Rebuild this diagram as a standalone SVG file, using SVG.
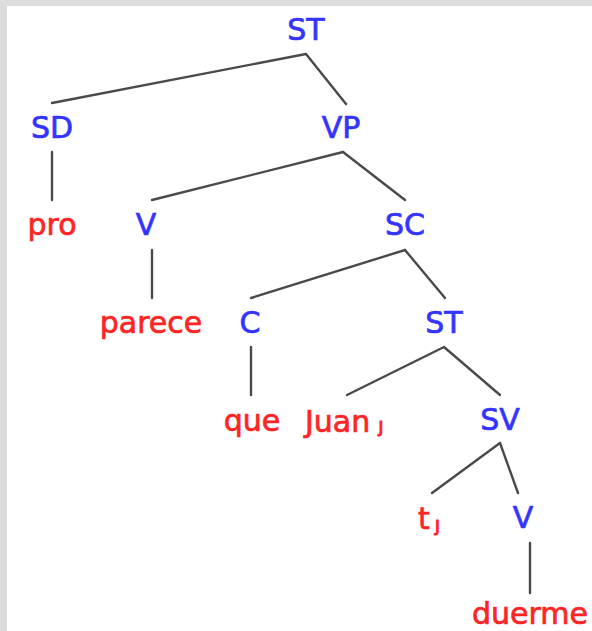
<svg xmlns="http://www.w3.org/2000/svg" width="592" height="631" viewBox="0 0 592 631">
<style>
text{font-family:"DejaVu Sans","Noto Sans",sans-serif;font-size:30px;text-anchor:middle;stroke-width:0.7px}
.c{fill:#3434ff;stroke:#3434ff}
.w{fill:#ff2424;stroke:#ff2424}
.sub{font-size:19px;stroke-width:1px}
#edges line{stroke:#4a4a4a;stroke-width:2.4;stroke-linecap:round}
</style>
<rect x="0" y="0" width="592" height="631" fill="#dcdcdc"/>
<rect x="7" y="6" width="585" height="625" fill="#ffffff"/>
<g id="edges">
<line x1="306" y1="54" x2="52" y2="103"/>
<line x1="306" y1="54" x2="346" y2="104"/>
<line x1="52" y1="152" x2="52" y2="200"/>
<line x1="343" y1="152" x2="152" y2="200"/>
<line x1="343" y1="152" x2="405" y2="200"/>
<line x1="152" y1="250" x2="152" y2="298"/>
<line x1="405" y1="250" x2="251" y2="298"/>
<line x1="405" y1="250" x2="445" y2="298"/>
<line x1="251" y1="347" x2="251" y2="395"/>
<line x1="444" y1="347" x2="347" y2="395"/>
<line x1="444" y1="347" x2="500" y2="395"/>
<line x1="500" y1="443" x2="432" y2="493"/>
<line x1="500" y1="443" x2="518" y2="493"/>
<line x1="530" y1="543" x2="530" y2="593"/>
</g>
<g id="n-ST"><text class="c" x="306" y="40">ST</text></g>
<g id="n-SD"><text class="c" x="52" y="138">SD</text></g>
<g id="n-VP"><text class="c" x="341" y="138">VP</text></g>
<g id="n-pro"><text class="w" x="52" y="235">pro</text></g>
<g id="n-V1"><text class="c" x="146" y="235">V</text></g>
<g id="n-SC"><text class="c" x="405" y="235">SC</text></g>
<g id="n-parece"><text class="w" x="151" y="333">parece</text></g>
<g id="n-C"><text class="c" x="250" y="333">C</text></g>
<g id="n-ST2"><text class="c" x="444" y="333">ST</text></g>
<g id="n-que"><text class="w" x="252" y="431">que</text></g>
<g id="n-Juan"><text class="w" x="305" y="432" style="text-anchor:start">Juan<tspan class="sub" dx="8">ȷ</tspan></text></g>
<g id="n-SV"><text class="c" x="500" y="430">SV</text></g>
<g id="n-t"><text class="w" x="418" y="529" style="text-anchor:start">t<tspan class="sub" dx="5" dy="2">ȷ</tspan></text></g>
<g id="n-V2"><text class="c" x="523" y="528">V</text></g>
<g id="n-duerme"><text class="w" x="530" y="624">duerme</text></g>
</svg>
